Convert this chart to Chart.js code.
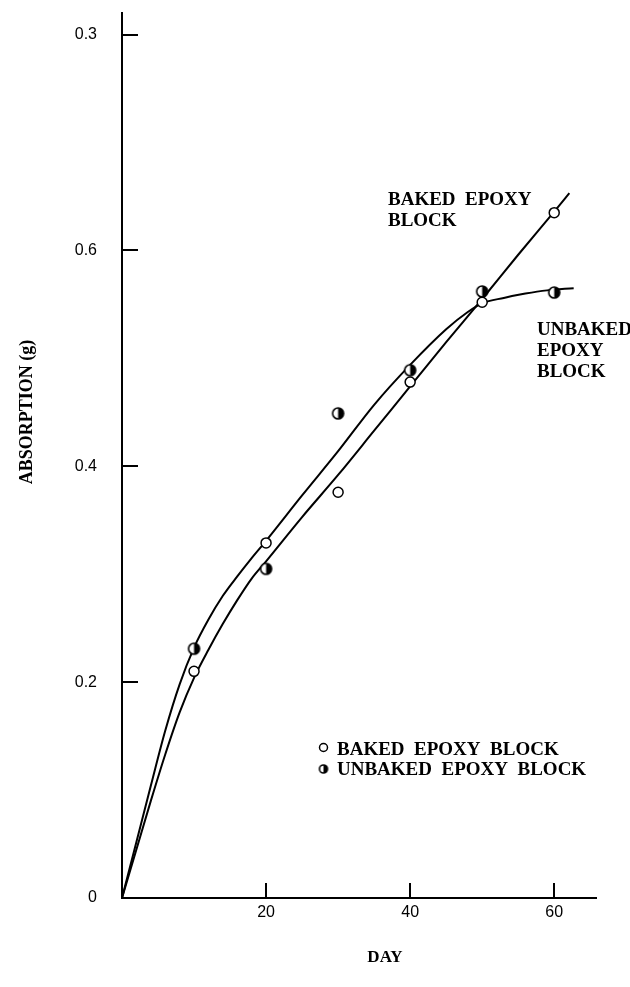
<!DOCTYPE html>
<html>
<head>
<meta charset="utf-8">
<script src="https://cdn.jsdelivr.net/npm/chart.js@4/dist/chart.umd.min.js"></script>
<style>
  html, body { margin: 0; padding: 0; background: #fff; }
  #wrap { width: 630px; height: 987px; }
</style>
</head>
<body>
<div id="wrap"><canvas id="c" width="630" height="987"></canvas></div>
<script>
// Measured absorption (g) per day
const days = [10, 20, 30, 40, 50, 60];
const bakedAbs = [0.210, 0.329, 0.376, 0.478, 0.552, 0.635];
const unbakedAbs = [0.231, 0.305, 0.449, 0.489, 0.562, 0.561];

// Hand-drawn trend curves
const bakedCurveDays = [0, 2, 4, 6, 8, 10, 12, 14, 16, 18, 20, 25, 30, 35, 40, 45, 50, 55, 60, 62.1];
const bakedCurveAbs = [0, 0.045, 0.09, 0.133, 0.172, 0.204, 0.23, 0.254, 0.276, 0.296, 0.312, 0.353, 0.392, 0.433, 0.474, 0.515, 0.555, 0.596, 0.636, 0.653];
const unbakedCurveDays = [0, 2, 4, 6, 8, 10, 12, 14, 16, 18, 20, 25, 30, 35, 40, 45, 48, 50, 53, 56, 59, 62.7];
const unbakedCurveAbs = [0, 0.052, 0.104, 0.155, 0.198, 0.232, 0.258, 0.28, 0.298, 0.315, 0.331, 0.373, 0.414, 0.457, 0.494, 0.527, 0.543, 0.551, 0.556, 0.56, 0.563, 0.565];

// Axis ticks
const xTickValues = [20, 40, 60];
const xTickLabels = ['20', '40', '60'];
const yTickValues = [0, 0.2, 0.4, 0.6, 0.8];
const yTickLabels = ['0', '0.2', '0.4', '0.6', '0.3'];

const SERIF = "'Liberation Serif', 'Times New Roman', serif";
const SANS = "'Liberation Sans', Arial, sans-serif";

const toPoints = (xs, ys) => xs.map((x, i) => ({ x: x, y: ys[i] }));

// Circle marker with its right half filled
function halfFilledDot(r) {
  const s = Math.ceil(r * 2 + 4);
  const cv = document.createElement('canvas');
  cv.width = s; cv.height = s;
  const g = cv.getContext('2d');
  const c = s / 2;
  g.fillStyle = '#fff';
  g.beginPath(); g.arc(c, c, r, 0, Math.PI * 2); g.fill();
  g.fillStyle = '#000';
  g.beginPath(); g.moveTo(c, c - r); g.arc(c, c, r, -Math.PI / 2, Math.PI / 2); g.closePath(); g.fill();
  g.strokeStyle = '#000'; g.lineWidth = 1.6;
  g.beginPath(); g.arc(c, c, r, 0, Math.PI * 2); g.stroke();
  return cv;
}
const halfDotBig = halfFilledDot(5.5);

// Inward tick marks, curve labels, legend and axis titles
const decorations = {
  id: 'decorations',
  afterDraw(chart) {
    const { ctx, chartArea: a, scales: { x, y } } = chart;
    ctx.save();
    ctx.strokeStyle = '#000';
    ctx.lineWidth = 2;
    yTickValues.forEach(v => {
      if (v === 0) return;
      const py = Math.round(y.getPixelForValue(v));
      ctx.beginPath(); ctx.moveTo(a.left, py); ctx.lineTo(a.left + 16, py); ctx.stroke();
    });
    xTickValues.forEach(v => {
      const px = Math.round(x.getPixelForValue(v));
      ctx.beginPath(); ctx.moveTo(px, a.bottom); ctx.lineTo(px, a.bottom - 15); ctx.stroke();
    });

    ctx.fillStyle = '#000';
    ctx.font = "bold 19px " + SERIF;
    ctx.textAlign = 'left';
    ctx.textBaseline = 'alphabetic';
    ctx.fillText('BAKED  EPOXY', 388, 205);
    ctx.fillText('BLOCK', 388, 226);
    ctx.fillText('UNBAKED', 537, 335);
    ctx.fillText('EPOXY', 537, 356);
    ctx.fillText('BLOCK', 537, 377);

    // legend
    ctx.fillText('BAKED  EPOXY  BLOCK', 337, 755);
    ctx.fillText('UNBAKED  EPOXY  BLOCK', 337, 775);
    ctx.lineWidth = 1.5;
    ctx.fillStyle = '#fff';
    ctx.beginPath(); ctx.arc(323.5, 747.5, 4, 0, Math.PI * 2); ctx.fill(); ctx.stroke();
    const small = halfFilledDot(4);
    ctx.drawImage(small, 323.5 - small.width / 2, 769 - small.height / 2);

    // horizontal axis title
    ctx.fillStyle = '#000';
    ctx.font = "bold 17px " + SERIF;
    ctx.textAlign = 'center';
    ctx.fillText('DAY', 385, 962);

    // vertical axis title
    ctx.font = "bold 18px " + SERIF;
    ctx.translate(27, 412);
    ctx.rotate(-Math.PI / 2);
    ctx.textAlign = 'center';
    ctx.textBaseline = 'middle';
    ctx.fillText('ABSORPTION (g)', 0, 0);
    ctx.restore();
  }
};

new Chart(document.getElementById('c'), {
  type: 'scatter',
  data: {
    datasets: [
      {
        label: 'BAKED EPOXY BLOCK',
        data: toPoints(days, bakedAbs),
        pointStyle: 'circle',
        pointRadius: 5,
        backgroundColor: '#fff',
        borderColor: '#000',
        borderWidth: 1.5,
        order: 0
      },
      {
        label: 'UNBAKED EPOXY BLOCK',
        data: toPoints(days, unbakedAbs),
        pointStyle: halfDotBig,
        pointRadius: 5.5,
        order: 0
      },
      {
        label: 'baked trend',
        data: toPoints(bakedCurveDays, bakedCurveAbs),
        showLine: true,
        pointRadius: 0,
        borderColor: '#000',
        borderWidth: 2,
        cubicInterpolationMode: 'monotone',
        order: 1
      },
      {
        label: 'unbaked trend',
        data: toPoints(unbakedCurveDays, unbakedCurveAbs),
        showLine: true,
        pointRadius: 0,
        borderColor: '#000',
        borderWidth: 2,
        cubicInterpolationMode: 'monotone',
        order: 1
      }
    ]
  },
  options: {
    responsive: false,
    devicePixelRatio: 1,
    animation: false,
    events: [],
    layout: { padding: { left: 0, top: 13, right: 34, bottom: 0 } },
    plugins: { legend: { display: false }, tooltip: { enabled: false } },
    scales: {
      x: {
        type: 'linear',
        min: 0,
        max: 65.8,
        afterBuildTicks: s => { s.ticks = xTickValues.map(v => ({ value: v })); },
        afterFit: s => { s.height = 89; s.paddingLeft = 0; s.paddingRight = 0; },
        ticks: {
          callback: v => xTickLabels[xTickValues.indexOf(v)],
          color: '#000',
          font: { family: SANS, size: 16 },
          padding: 5,
          maxRotation: 0
        },
        grid: { drawOnChartArea: false, drawTicks: false },
        border: { display: true, color: '#000', width: 2 }
      },
      y: {
        type: 'linear',
        min: 0,
        max: 0.82,
        afterBuildTicks: s => { s.ticks = yTickValues.map(v => ({ value: v })); },
        afterFit: s => { s.width = 122; s.paddingTop = 0; s.paddingBottom = 0; },
        ticks: {
          callback: v => yTickLabels[yTickValues.indexOf(v)],
          color: '#000',
          font: { family: SANS, size: 16 },
          padding: 25
        },
        grid: { drawOnChartArea: false, drawTicks: false },
        border: { display: true, color: '#000', width: 2 }
      }
    }
  },
  plugins: [decorations]
});
</script>
</body>
</html>
